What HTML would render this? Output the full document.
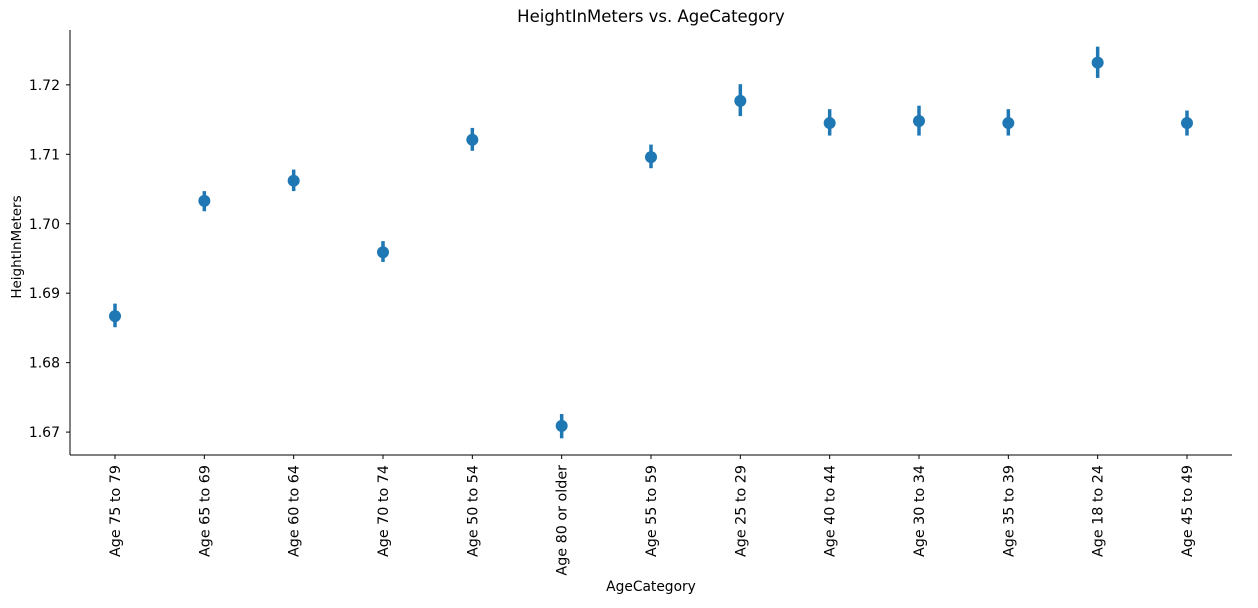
<!DOCTYPE html>
<html><head><meta charset="utf-8"><style>
body{margin:0;background:#fff;}
svg text{font-family:"DejaVu Sans","Liberation Sans",sans-serif;fill:#000;}
</style></head><body>
<svg id="chart" width="1258" height="603" xmlns="http://www.w3.org/2000/svg">
<text x="651" y="22" font-size="16.5" text-anchor="middle">HeightInMeters vs. AgeCategory</text>
<text x="651" y="591" font-size="13.8" text-anchor="middle">AgeCategory</text>
<text transform="translate(21,247) rotate(-90)" font-size="13.5" text-anchor="middle">HeightInMeters</text>
<g id="plot"></g>
</svg>
<script>
const categories=["Age 75 to 79","Age 65 to 69","Age 60 to 64","Age 70 to 74","Age 50 to 54","Age 80 or older","Age 55 to 59","Age 25 to 29","Age 40 to 44","Age 30 to 34","Age 35 to 39","Age 18 to 24","Age 45 to 49"];
const means=[1.6867,1.7033,1.7062,1.6959,1.7121,1.6709,1.7096,1.7177,1.7145,1.7148,1.7145,1.7232,1.7145];
const ciLow=[1.6851,1.7018,1.7047,1.6945,1.7105,1.6691,1.7080,1.7155,1.7127,1.7127,1.7127,1.7210,1.7127];
const ciHigh=[1.6885,1.7047,1.7078,1.6975,1.7138,1.6726,1.7114,1.7201,1.7165,1.7170,1.7165,1.7255,1.7163];
const yTicks=[1.67,1.68,1.69,1.70,1.71,1.72];
const yTickLabels=["1.67","1.68","1.69","1.70","1.71","1.72"];
const NS="http://www.w3.org/2000/svg";
const L=70,R=1232,T=30,B=455;
const yMin=1.6667,yMax=1.7279;
function y(v){return B-(v-yMin)/(yMax-yMin)*(B-T);}
const step=(1187-115)/(categories.length-1);
function x(i){return 115+i*step;}
const g=document.getElementById('plot');
function mk(tag,attrs){const e=document.createElementNS(NS,tag);for(const k in attrs)e.setAttribute(k,attrs[k]);g.appendChild(e);return e;}
let ax=mk('line',{x1:L,y1:T,x2:L,y2:B,stroke:'#000','stroke-width':1});


let bx=mk('line',{x1:L,y1:B,x2:R,y2:B,stroke:'#000','stroke-width':1});


yTicks.forEach((v,i)=>{
 const t=mk('line',{x1:L-4,x2:L,y1:y(v),y2:y(v),stroke:'#000'});
 
 
 const tx=mk('text',{x:L-10,y:y(v)+5,'font-size':14,'text-anchor':'end'});
 tx.textContent=yTickLabels[i];
 
 
});
categories.forEach((c,i)=>{
 const t=mk('line',{x1:x(i),x2:x(i),y1:B,y2:B+4,stroke:'#000'});
 
 
 const tx=mk('text',{transform:`translate(${x(i)+5},${B+10}) rotate(-90)`,'font-size':14.3,'text-anchor':'end'});
 tx.textContent=c;
 
 
 const e=mk('line',{x1:x(i),x2:x(i),y1:y(ciLow[i]),y2:y(ciHigh[i]),stroke:'#1f77b4','stroke-width':3.5});
 
 
 const p=mk('circle',{cx:x(i),cy:y(means[i]),r:6,fill:'#1f77b4'});
 
 
});
</script>
</body></html>
